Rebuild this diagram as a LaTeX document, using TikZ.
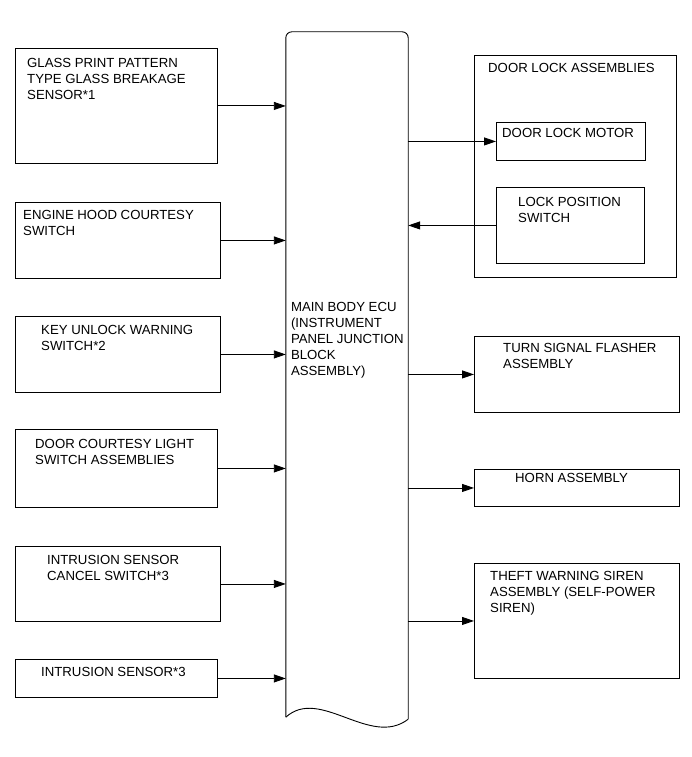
\documentclass[tikz,border=0pt]{standalone}
\usepackage{fontspec}
\setmainfont{Liberation Sans}
\usetikzlibrary{arrows.meta}

\begin{document}
\begin{tikzpicture}[x=1pt,y=1pt]
\tikzstyle{every node}+=[inner sep=0pt]
\tikzstyle{box}=[draw=black, line width=0.9pt, rectangle, anchor=north west]
\tikzstyle{txt}=[anchor=north west, align=left, font=\fontsize{13.2}{16}\selectfont]
\tikzstyle{arr}=[line width=0.9pt, -{Triangle[length=12pt,width=8pt]}]
\useasboundingbox (0,0) rectangle (691,-757);
% main body ECU
\node (ecu) at (347,-374.5) [minimum width=122, minimum height=685] {};
\draw [line width=0.9pt, rounded corners=6pt] (ecu.south west) -- (ecu.north west) -- (ecu.north east) -- ([yshift=-2]ecu.south east);
\draw [line width=0.9pt] ([yshift=-2]ecu.south east) .. controls ([shift={(-38,-31)}]ecu.south east) and ([shift={(34,31)}]ecu.south west) .. (ecu.south west);
\node [txt] (ecu-t) at ([shift={(5,-270)}]ecu.north west) {MAIN BODY ECU\\(INSTRUMENT\\PANEL JUNCTION\\BLOCK\\ASSEMBLY)};
% inputs
\node [box, minimum width=202, minimum height=115] (glass) at (15,-48) {};
\node [txt] (glass-t) at ([shift={(12,-10)}]glass.north west) {GLASS PRINT PATTERN\\TYPE GLASS BREAKAGE\\SENSOR*1};
\node [box, minimum width=205, minimum height=76] (hood) at (15,-202) {};
\node [txt] (hood-t) at ([shift={(8,-8)}]hood.north west) {ENGINE HOOD COURTESY\\SWITCH};
\node [box, minimum width=205, minimum height=76] (unlock) at (15,-316) {};
\node [txt] (unlock-t) at ([shift={(26,-9)}]unlock.north west) {KEY UNLOCK WARNING\\SWITCH*2};
\node [box, minimum width=202, minimum height=78] (courtesy) at (15,-429) {};
\node [txt] (courtesy-t) at ([shift={(20,-10)}]courtesy.north west) {DOOR COURTESY LIGHT\\SWITCH ASSEMBLIES};
\node [box, minimum width=205, minimum height=75] (cancel) at (15,-546) {};
\node [txt] (cancel-t) at ([shift={(32,-9)}]cancel.north west) {INTRUSION SENSOR\\CANCEL SWITCH*3};
\node [box, minimum width=202, minimum height=38] (intrusion) at (15,-659) {};
\node [txt] (intrusion-t) at ([shift={(26,-8)}]intrusion.north west) {INTRUSION SENSOR*3};
% outputs
\node [box, minimum width=202, minimum height=222] (doorlock) at (474,-55) {};
\node [txt] (doorlock-t) at ([shift={(14,-8)}]doorlock.north west) {DOOR LOCK ASSEMBLIES};
\node [box, minimum width=149, minimum height=38] (motor) at (496,-122) {};
\node [txt] (motor-t) at ([shift={(6,-6)}]motor.north west) {DOOR LOCK MOTOR};
\node [box, minimum width=148, minimum height=76] (lockpos) at (496,-187) {};
\node [txt] (lockpos-t) at ([shift={(22,-10)}]lockpos.north west) {LOCK POSITION\\SWITCH};
\node [box, minimum width=205, minimum height=76] (flasher) at (474,-336) {};
\node [txt] (flasher-t) at ([shift={(29,-7)}]flasher.north west) {TURN SIGNAL FLASHER\\ASSEMBLY};
\node [box, minimum width=205, minimum height=37] (horn) at (474,-469) {};
\node [txt] (horn-t) at ([shift={(41,-4)}]horn.north west) {HORN ASSEMBLY};
\node [box, minimum width=205, minimum height=115] (siren) at (474,-563) {};
\node [txt] (siren-t) at ([shift={(16,-8)}]siren.north west) {THEFT WARNING SIREN\\ASSEMBLY (SELF-POWER\\SIREN)};
% connectors
\draw [arr] (glass.east) -- (glass.east -| ecu.west);
\draw [arr] (hood.east) -- (hood.east -| ecu.west);
\draw [arr] (unlock.east) -- (unlock.east -| ecu.west);
\draw [arr] (courtesy.east) -- (courtesy.east -| ecu.west);
\draw [arr] (cancel.east) -- (cancel.east -| ecu.west);
\draw [arr] (intrusion.east) -- (intrusion.east -| ecu.west);
\draw [arr] (ecu.east |- motor.west) -- (motor.west);
\draw [arr] (lockpos.west) -- (lockpos.west -| ecu.east);
\draw [arr] (ecu.east |- flasher.west) -- (flasher.west);
\draw [arr] (ecu.east |- horn.west) -- (horn.west);
\draw [arr] (ecu.east |- siren.west) -- (siren.west);
\end{tikzpicture}
\end{document}
